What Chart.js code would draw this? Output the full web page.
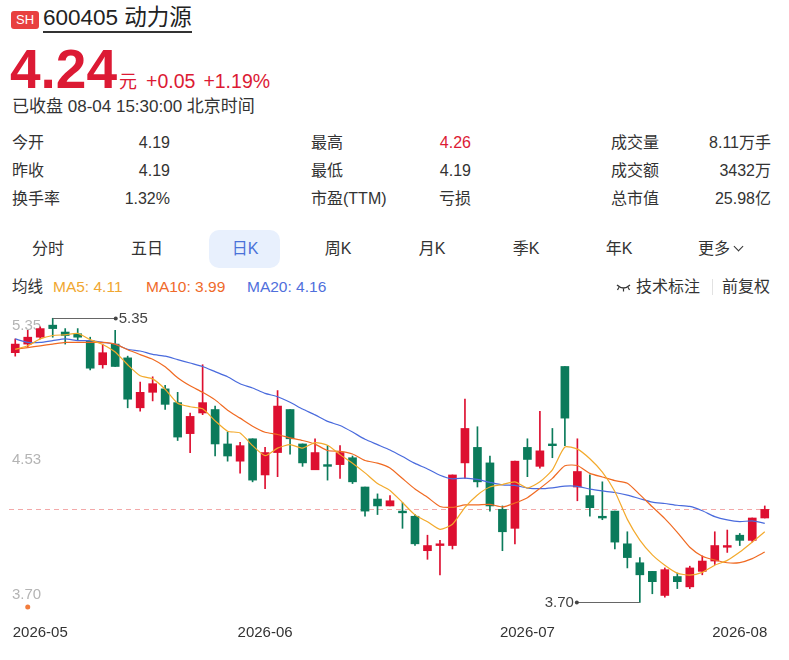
<!DOCTYPE html>
<html>
<head>
<meta charset="utf-8">
<script src="https://cdn.jsdelivr.net/npm/chart.js@4.4.1/dist/chart.umd.min.js"></script>
<style>
  body { margin: 0; width: 789px; height: 660px; background: #fff; position: relative; overflow: hidden;
         font-family: "Liberation Sans", Arial, "Noto Sans CJK SC", sans-serif; color: #333; }
  .abs { position: absolute; white-space: nowrap; }
  .badge { left: 11px; top: 11px; width: 28px; height: 18px; line-height: 18px; background: #e8403f; color: #fff;
           border-radius: 3px; font-size: 13px; text-align: center; }
  .title { left: 43px; top: 5px; font-size: 22.5px; line-height: 26px; color: #222; border-bottom: 2px solid #333; }
  .price { left: 10px; top: 40px; line-height: 58px; color: #dc1a34; }
  .price b { font-size: 55px; }
  .price .u { font-size: 18px; margin-left: 2px; }
  .price .c { font-size: 19.5px; margin-left: 9px; }
  .status { left: 12px; top: 96px; font-size: 17px; line-height: 22px; }
  .lab, .val { font-size: 16px; line-height: 28px; }
  .val { text-align: right; }
  .red { color: #dc1a34; }
  .pill { left: 209px; top: 230px; width: 71px; height: 38px; background: #e8f0fd; border-radius: 10px; }
  .tab { top: 237px; width: 90px; text-align: center; font-size: 16px; line-height: 24px; }
  .tab.on { color: #4a72d9; }
  .chev { display: inline-block; width: 6px; height: 6px; border-right: 1.3px solid #333; border-bottom: 1.3px solid #333;
          transform: rotate(45deg); margin-left: 5px; position: relative; top: -4px; }
  .ma { top: 276px; font-size: 15.5px; line-height: 22px; }
  .sep { left: 712px; top: 279px; width: 1px; height: 16px; background: #e2e2e2; }
  #chartBox { position: absolute; left: 0; top: 300px; width: 789px; height: 345px; }
</style>
</head>
<body>
<div class="abs badge">SH</div>
<div class="abs title">600405 动力源</div>
<div class="abs price"><b>4.24</b><span class="u">元</span><span class="c">+0.05</span><span class="c" style="margin-left:8px">+1.19%</span></div>
<div class="abs status">已收盘 08-04 15:30:00 北京时间</div>

<div class="abs lab" style="left:12px;top:129px">今开</div>
<div class="abs val" style="right:619px;top:129px">4.19</div>
<div class="abs lab" style="left:12px;top:157px">昨收</div>
<div class="abs val" style="right:619px;top:157px">4.19</div>
<div class="abs lab" style="left:12px;top:185px">换手率</div>
<div class="abs val" style="right:619px;top:185px">1.32%</div>

<div class="abs lab" style="left:311px;top:129px">最高</div>
<div class="abs val red" style="right:318px;top:129px">4.26</div>
<div class="abs lab" style="left:311px;top:157px">最低</div>
<div class="abs val" style="right:318px;top:157px">4.19</div>
<div class="abs lab" style="left:311px;top:185px">市盈(TTM)</div>
<div class="abs val" style="right:318px;top:185px">亏损</div>

<div class="abs lab" style="left:611px;top:129px">成交量</div>
<div class="abs val" style="right:18px;top:129px">8.11万手</div>
<div class="abs lab" style="left:611px;top:157px">成交额</div>
<div class="abs val" style="right:18px;top:157px">3432万</div>
<div class="abs lab" style="left:611px;top:185px">总市值</div>
<div class="abs val" style="right:18px;top:185px">25.98亿</div>

<div class="abs pill"></div>
<div class="abs tab" style="left:3px">分时</div>
<div class="abs tab" style="left:102px">五日</div>
<div class="abs tab on" style="left:200px">日K</div>
<div class="abs tab" style="left:293px">周K</div>
<div class="abs tab" style="left:387px">月K</div>
<div class="abs tab" style="left:481px">季K</div>
<div class="abs tab" style="left:574px">年K</div>
<div class="abs tab" style="left:675px">更多<span class="chev"></span></div>

<div class="abs ma" style="left:12px">均线</div>
<div class="abs ma" style="left:53px;color:#f0a731">MA5: 4.11</div>
<div class="abs ma" style="left:146px;color:#ef6a2a">MA10: 3.99</div>
<div class="abs ma" style="left:247px;color:#4f6fdc">MA20: 4.16</div>
<svg class="abs" style="left:616px;top:282px" width="15" height="10" viewBox="0 0 15 10">
  <path d="M1 3 Q7.5 9 14 3" fill="none" stroke="#333" stroke-width="1.3"/>
  <path d="M3 5.2 L1.5 8 M7.5 6.5 L7.5 9.5 M12 5.2 L13.5 8" stroke="#333" stroke-width="1.2"/>
</svg>
<div class="abs ma" style="left:636px;font-size:16px">技术标注</div>
<div class="abs sep"></div>
<div class="abs ma" style="left:722px;font-size:16px">前复权</div>

<div id="chartBox"><canvas id="kline"></canvas></div>

<script>
// daily candles
const opens = [5.15, 5.20, 5.24, 5.31, 5.27, 5.26, 5.22, 5.08, 5.20, 5.12,
  4.83, 4.92, 4.94, 4.86, 4.68, 4.80, 4.82, 4.62, 4.52, 4.65,
  4.44, 4.57, 4.82, 4.62, 4.47, 4.50, 4.50, 4.54, 4.37, 4.30,
  4.26, 4.23, 4.20, 4.00, 4.03, 4.03, 4.51, 4.60, 4.51, 4.24,
  4.13, 4.60, 4.49, 4.62, 5.07, 4.37, 4.32, 4.20, 4.23, 4.04,
  3.93, 3.88, 3.74, 3.85, 3.79, 3.88, 3.94, 4.02, 4.09, 4.06, 4.19];
const highs = [5.23, 5.28, 5.30, 5.35, 5.29, 5.29, 5.24, 5.20, 5.28, 5.13,
  4.98, 5.01, 4.96, 4.92, 4.80, 5.08, 4.84, 4.69, 4.63, 4.65,
  4.60, 4.93, 4.82, 4.62, 4.65, 4.61, 4.61, 4.55, 4.37, 4.33,
  4.32, 4.28, 4.21, 4.09, 4.06, 4.44, 4.88, 4.72, 4.55, 4.26,
  4.52, 4.65, 4.81, 4.71, 5.07, 4.65, 4.44, 4.40, 4.23, 4.11,
  3.96, 3.88, 3.90, 3.87, 3.91, 3.97, 4.11, 4.12, 4.10, 4.19, 4.26];
const lows = [5.13, 5.18, 5.23, 5.24, 5.20, 5.22, 5.05, 5.06, 5.07, 4.83,
  4.81, 4.87, 4.82, 4.64, 4.57, 4.79, 4.55, 4.52, 4.45, 4.40,
  4.36, 4.43, 4.56, 4.49, 4.47, 4.41, 4.42, 4.39, 4.20, 4.21,
  4.26, 4.13, 4.03, 3.95, 3.86, 4.01, 4.42, 4.37, 4.23, 4.00,
  4.04, 4.43, 4.48, 4.54, 4.61, 4.29, 4.20, 4.18, 4.01, 3.90,
  3.70, 3.75, 3.73, 3.78, 3.78, 3.86, 3.92, 3.99, 4.03, 4.05, 4.19];
const closes = [5.20, 5.24, 5.29, 5.29, 5.25, 5.24, 5.06, 5.15, 5.07, 4.88,
  4.92, 4.97, 4.85, 4.66, 4.78, 4.86, 4.62, 4.55, 4.61, 4.41,
  4.57, 4.84, 4.65, 4.51, 4.57, 4.49, 4.57, 4.40, 4.23, 4.26,
  4.29, 4.22, 4.04, 4.03, 4.04, 4.44, 4.71, 4.40, 4.26, 4.11,
  4.52, 4.53, 4.58, 4.61, 4.77, 4.46, 4.25, 4.19, 4.05, 3.96,
  3.86, 3.82, 3.89, 3.82, 3.90, 3.94, 4.03, 4.03, 4.06, 4.19, 4.24];

// moving averages as drawn
const ma5 = [5.17, 5.19, 5.23, 5.25, 5.254, 5.262, 5.226, 5.198, 5.154, 5.080,
  5.016, 4.998, 4.938, 4.856, 4.836, 4.824, 4.754, 4.694, 4.684, 4.610,
  4.552, 4.596, 4.616, 4.596, 4.628, 4.612, 4.558, 4.508, 4.452, 4.390,
  4.350, 4.280, 4.208, 4.168, 4.124, 4.154, 4.252, 4.324, 4.370, 4.384,
  4.400, 4.364, 4.400, 4.470, 4.602, 4.590, 4.534, 4.456, 4.344, 4.182,
  4.062, 3.976, 3.916, 3.870, 3.858, 3.874, 3.916, 3.944, 3.992, 4.050, 4.110];
const ma10 = [5.17, 5.18, 5.19, 5.20, 5.21, 5.21, 5.21, 5.21, 5.20, 5.167,
  5.139, 5.112, 5.068, 5.005, 4.958, 4.920, 4.876, 4.816, 4.770, 4.723,
  4.688, 4.675, 4.655, 4.640, 4.619, 4.582, 4.577, 4.562, 4.524, 4.509,
  4.481, 4.419, 4.358, 4.310, 4.257, 4.252, 4.266, 4.266, 4.269, 4.254,
  4.277, 4.308, 4.362, 4.420, 4.493, 4.495, 4.449, 4.428, 4.407, 4.392,
  4.326, 4.255, 4.186, 4.107, 4.020, 3.968, 3.946, 3.930, 3.931, 3.954, 3.992];
const ma20 = [5.23, 5.21, 5.21, 5.22, 5.23, 5.22, 5.22, 5.21, 5.20, 5.17,
  5.16, 5.14, 5.13, 5.11, 5.09, 5.07, 5.04, 5.01, 4.97, 4.945,
  4.914, 4.894, 4.862, 4.823, 4.789, 4.751, 4.727, 4.689, 4.647, 4.616,
  4.585, 4.547, 4.507, 4.475, 4.438, 4.417, 4.422, 4.414, 4.397, 4.382,
  4.379, 4.364, 4.360, 4.365, 4.375, 4.374, 4.358, 4.347, 4.338, 4.323,
  4.302, 4.282, 4.274, 4.264, 4.257, 4.232, 4.198, 4.179, 4.169, 4.173, 4.159];

const tickLabels = ['2026-05', '2026-06', '2026-07', '2026-08'];
const tickIndex = [2, 20, 41, 58];
const eventDays = [1];

const days = opens.map((_, i) => i);
const UP = '#dd0f30', DOWN = '#0b7b5b';
const candleColors = opens.map((o, i) => closes[i] >= o ? UP : DOWN);
const FONT = '"Liberation Sans", Arial, sans-serif';

// price line, side labels and high / low marks
const overlay = {
  id: 'overlay',
  beforeDatasetsDraw(chart) {
    const { ctx, chartArea: a, scales: { x, y } } = chart;
    const hi = Math.max(...highs), lo = Math.min(...lows);
    const mid = Math.round((hi + lo) / 2 * 100 + 1e-6) / 100;
    ctx.save();

    const py = Math.round(y.getPixelForValue(closes[closes.length - 1])) + 0.5;
    ctx.strokeStyle = '#f3a9a9';
    ctx.lineWidth = 1;
    ctx.setLineDash([5, 4]);
    ctx.beginPath();
    ctx.moveTo(a.left, py);
    ctx.lineTo(a.right, py);
    ctx.stroke();
    ctx.setLineDash([]);

    ctx.fillStyle = '#b4b4b4';
    ctx.font = '15px ' + FONT;
    ctx.textAlign = 'left';
    ctx.textBaseline = 'top';
    ctx.fillText(hi.toFixed(2), a.left + 3, y.getPixelForValue(hi));
    ctx.textBaseline = 'middle';
    ctx.fillText(mid.toFixed(2), a.left + 3, y.getPixelForValue(mid));
    ctx.textBaseline = 'bottom';
    ctx.fillText(lo.toFixed(2), a.left + 3, y.getPixelForValue(lo));

    ctx.fillStyle = '#f27c3c';
    eventDays.forEach(i => {
      ctx.beginPath();
      ctx.arc(x.getPixelForValue(i), a.bottom - 5, 2.5, 0, 2 * Math.PI);
      ctx.fill();
    });
    ctx.restore();
  },
  afterDatasetsDraw(chart) {
    const { ctx, scales: { x, y } } = chart;
    const hi = Math.max(...highs), lo = Math.min(...lows);
    const marks = [
      { i: highs.indexOf(hi), v: hi, dir: 1 },
      { i: lows.indexOf(lo), v: lo, dir: -1 }
    ];
    ctx.save();
    ctx.strokeStyle = '#666';
    ctx.fillStyle = '#444';
    ctx.lineWidth = 1;
    ctx.font = '15px ' + FONT;
    ctx.textBaseline = 'middle';
    marks.forEach(m => {
      const x0 = x.getPixelForValue(m.i);
      const yy = Math.round(y.getPixelForValue(m.v)) + 0.5;
      const x1 = x0 + m.dir * 63;
      ctx.beginPath();
      ctx.moveTo(x0, yy);
      ctx.lineTo(x1, yy);
      ctx.stroke();
      ctx.beginPath();
      ctx.arc(x1, yy, 2, 0, 2 * Math.PI);
      ctx.fill();
      ctx.textAlign = m.dir > 0 ? 'left' : 'right';
      ctx.fillText(m.v.toFixed(2), x1 + m.dir * 3, yy);
    });
    ctx.restore();
  }
};

const maLine = (label, data, color) => ({
  type: 'line', label, data, borderColor: color, borderWidth: 1.2,
  pointRadius: 0, tension: 0.2, fill: false, order: 0
});

new Chart(document.getElementById('kline'), {
  type: 'bar',
  data: {
    labels: days,
    datasets: [
      maLine('MA5', ma5, '#f3aa2c'),
      maLine('MA10', ma10, '#f06a22'),
      maLine('MA20', ma20, '#4a6bdd'),
      {
        label: 'body',
        data: opens.map((o, i) => [o, closes[i]]),
        backgroundColor: candleColors,
        barThickness: 8,
        minBarLength: 1,
        grouped: false,
        order: 1
      },
      {
        label: 'wick',
        data: lows.map((l, i) => [l, highs[i]]),
        backgroundColor: candleColors,
        barThickness: 1,
        grouped: false,
        order: 2
      }
    ]
  },
  options: {
    responsive: true,
    maintainAspectRatio: false,
    animation: false,
    layout: { padding: { left: 9, right: 18, top: 10, bottom: 0 } },
    plugins: { legend: { display: false }, tooltip: { enabled: false } },
    scales: {
      x: {
        grid: { display: false, drawTicks: false },
        border: { display: false },
        afterFit(scale) { scale.height = 33; },
        ticks: {
          autoSkip: false,
          maxRotation: 0,
          minRotation: 0,
          padding: 12,
          color: '#333',
          font: { size: 15, family: FONT },
          callback: (value, index) => {
            const k = tickIndex.indexOf(index);
            return k >= 0 ? tickLabels[k] : '';
          }
        }
      },
      y: { display: false, min: 3.644, max: 5.398 }
    }
  },
  plugins: [overlay]
});
</script>
</body>
</html>
